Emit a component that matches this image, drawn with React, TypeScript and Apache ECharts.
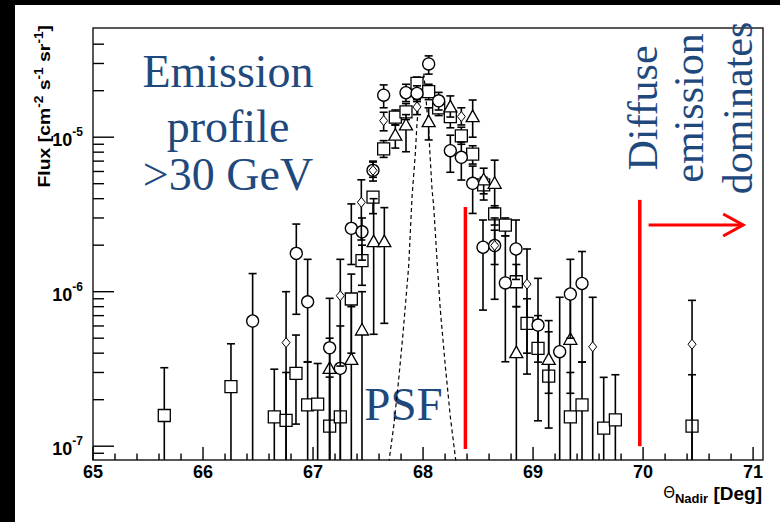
import React, { useEffect, useRef } from "react";
import * as echarts from "echarts";

// ---- axis ranges ----
const X_MIN = 65;
const X_MAX = 71.09;
const Y_MIN = 8.14e-8;
const Y_MAX = 5.09e-5;
const LOW = 1e-9; // error bar that runs off the bottom of the frame

// ---- tick values ----
const xMajorTicks = [65, 66, 67, 68, 69, 70, 71];
const xMinorTicks: number[] = [];
for (let i = 1; i < 31; i++) {
  if (i % 5 !== 0) xMinorTicks.push(+(65 + i * 0.2).toFixed(2));
}
const yMajorTicks = [1e-7, 1e-6, 1e-5];
const yMinorTicks = [
  9e-8, 2e-7, 3e-7, 4e-7, 5e-7, 6e-7, 7e-7, 8e-7, 9e-7,
  2e-6, 3e-6, 4e-6, 5e-6, 6e-6, 7e-6, 8e-6, 9e-6,
  2e-5, 3e-5, 4e-5,
];

// ---- data: [theta, flux, lower, upper] ----
const circles = [
  [66.451, 6.46e-7, LOW, 1.31e-6],
  [66.848, 1.77e-6, 7.14e-7, 2.74e-6],
  [66.951, 8.6e-7, 3.52e-7, 1.62e-6],
  [67.151, 4.33e-7, LOW, 9.06e-7],
  [67.248, 3.19e-7, LOW, 6.0e-7],
  [67.348, 2.57e-6, 1.5e-6, 3.7e-6],
  [67.445, 2.44e-6, 1.6e-6, 3.0e-6],
  [67.545, 6.1e-6, 5.5e-6, 6.9e-6],
  [67.642, 1.87e-5, 1.55e-5, 2.18e-5],
  [67.845, 1.94e-5, 1.7e-5, 2.2e-5],
  [67.945, 1.92e-5, 1.7e-5, 2.15e-5],
  [68.051, 2.98e-5, 2.56e-5, 3.36e-5],
  [68.142, 1.72e-5, 1.5e-5, 1.95e-5],
  [68.248, 8.18e-6, 5.93e-6, 1.03e-5],
  [68.348, 7.41e-6, 5.28e-6, 9.3e-6],
  [68.451, 5.03e-6, 3.21e-6, 6.5e-6],
  [68.545, 1.94e-6, 7.6e-7, 2.91e-6],
  [68.651, 1.99e-6, 8.93e-7, 3.0e-6],
  [68.748, 1.14e-6, 3.52e-7, 2.3e-6],
  [68.845, 1.89e-6, 1.2e-6, 2.91e-6],
  [69.045, 6.08e-7, 3.5e-7, 1.22e-6],
  [69.242, 4.09e-7, LOW, 9.2e-7],
  [69.339, 9.66e-7, 5.0e-7, 1.62e-6],
  [69.445, 1.13e-6, 3.5e-7, 1.82e-6],
];

const squares = [
  [65.648, 1.58e-7, LOW, 3.22e-7],
  [66.254, 2.43e-7, LOW, 4.6e-7],
  [66.648, 1.55e-7, LOW, 3.15e-7],
  [66.755, 1.47e-7, LOW, 3.0e-7],
  [66.845, 2.96e-7, 1.39e-7, 5.24e-7],
  [66.951, 1.85e-7, LOW, 3.5e-7],
  [67.042, 1.87e-7, LOW, 3.43e-7],
  [67.151, 1.35e-7, LOW, 2.8e-7],
  [67.248, 1.55e-7, LOW, 3.0e-7],
  [67.348, 8.97e-7, 4.0e-7, 1.3e-6],
  [67.445, 1.59e-6, 1.1e-6, 2.0e-6],
  [67.545, 4.09e-6, 3.2e-6, 4.4e-6],
  [67.642, 8.4e-6, 7.4e-6, 9.5e-6],
  [67.748, 1.35e-5, 1.2e-5, 1.5e-5],
  [67.845, 1.46e-5, 1.3e-5, 1.65e-5],
  [67.945, 2.23e-5, 2.0e-5, 2.45e-5],
  [68.051, 1.97e-5, 1.75e-5, 2.2e-5],
  [68.142, 1.55e-5, 1.38e-5, 1.72e-5],
  [68.248, 1.36e-5, 1.15e-5, 1.55e-5],
  [68.348, 1.02e-5, 9.0e-6, 1.16e-5],
  [68.451, 7.78e-6, 6.7e-6, 8.8e-6],
  [68.551, 4.91e-6, 3.92e-6, 5.5e-6],
  [68.651, 3.19e-6, 2.7e-6, 3.6e-6],
  [68.748, 2.7e-6, 2.3e-6, 3.0e-6],
  [68.848, 1.16e-6, 8.0e-7, 1.5e-6],
  [68.945, 6.24e-7, 4.0e-7, 9.0e-7],
  [69.045, 4.3e-7, 1.46e-7, 7.0e-7],
  [69.142, 2.84e-7, 1.31e-7, 5.5e-7],
  [69.339, 1.55e-7, LOW, 3.0e-7],
  [69.445, 1.85e-7, LOW, 3.5e-7],
  [69.642, 1.31e-7, LOW, 2.79e-7],
  [69.748, 1.48e-7, LOW, 2.9e-7],
  [70.445, 1.35e-7, LOW, 2.9e-7],
];

const triangles = [
  [67.151, 3.19e-7, LOW, 5.0e-7],
  [67.348, 3.65e-7, LOW, 8.0e-7],
  [67.445, 5.65e-7, LOW, 1.0e-6],
  [67.551, 2.11e-6, 5.3e-7, 4.0e-6],
  [67.648, 2.11e-6, 6.24e-7, 3.5e-6],
  [67.748, 1.03e-5, 8.5e-6, 1.2e-5],
  [67.845, 1.2e-5, 8.05e-6, 1.4e-5],
  [68.051, 1.26e-5, 9.6e-6, 1.55e-5],
  [68.248, 1.57e-5, 1.35e-5, 1.85e-5],
  [68.451, 1.36e-5, 1.0e-5, 1.74e-5],
  [68.551, 5.3e-6, 4.3e-6, 6.3e-6],
  [68.651, 5.03e-6, 3.5e-6, 7.1e-6],
  [68.848, 4.03e-7, LOW, 8.0e-7],
  [69.142, 3.65e-7, 2.2e-7, 6.5e-7],
  [69.339, 4.92e-7, 2.2e-7, 1.0e-6],
];

const diamonds = [
  [66.755, 4.68e-7, LOW, 1.0e-6],
  [67.248, 9.42e-7, 3.3e-7, 1.62e-6],
  [67.439, 3.79e-6, 2.16e-6, 5.3e-6],
  [67.545, 6.1e-6, 5.2e-6, 7.0e-6],
  [67.642, 1.28e-5, 1.1e-5, 1.45e-5],
  [67.945, 1.57e-5, 1.4e-5, 1.75e-5],
  [68.348, 1.36e-5, 1.2e-5, 1.55e-5],
  [68.651, 1.99e-6, 1.5e-6, 2.5e-6],
  [68.945, 1.12e-6, 2.93e-7, 1.89e-6],
  [69.542, 4.4e-7, LOW, 9.2e-7],
  [70.445, 4.57e-7, LOW, 8.79e-7],
];

// ---- PSF (dashed) ----
const psfTheta = [
  67.69, 67.696, 67.733, 67.778, 67.818, 67.869, 67.9, 67.93, 67.945, 67.96,
  68.007, 68.051, 68.066, 68.082, 68.096, 68.127, 68.157, 68.203, 68.248, 68.293, 68.3,
];
const psfFlux = [
  7.8e-8, 8.55e-8, 1.34e-7, 2.68e-7, 5.38e-7, 1.45e-6, 4.12e-6, 7.87e-6, 1.23e-5, 1.66e-5,
  2.6e-5, 1.11e-5, 7.12e-6, 4.55e-6, 3.64e-6, 1.6e-6, 7.6e-7, 3.27e-7, 1.55e-7, 8.55e-8, 7.8e-8,
];

// ---- red annotations ----
const redLines = [
  [68.385, 9.6e-8, 3.53e-6],
  [69.97, 1.0e-7, 3.93e-6],
];
const redArrow = [[70.05, 70.91, 2.7e-6]];

const INK = "#000";
const BLUE = "#1F497D";

function markerShape(kind: string, x: number, y: number) {
  const style = { fill: "#fff", stroke: INK, lineWidth: 1.3 };
  if (kind === "circle") return { type: "circle", shape: { cx: x, cy: y, r: 6 }, style };
  if (kind === "square") return { type: "rect", shape: { x: x - 6, y: y - 6, width: 12, height: 12 }, style };
  if (kind === "triangle")
    return { type: "polygon", shape: { points: [[x, y - 6.5], [x + 6.5, y + 5], [x - 6.5, y + 5]] }, style };
  return { type: "polygon", shape: { points: [[x, y - 5], [x + 4, y], [x, y + 5], [x - 4, y]] }, style: { ...style, lineWidth: 1 } };
}

function errSeries(name: string, data: number[][], kind: string) {
  return {
    name,
    type: "custom",
    coordinateSystem: "cartesian2d",
    clip: true,
    silent: true,
    encode: { x: 0, y: 1 },
    data,
    renderItem: (_p: any, api: any) => {
      const x = api.value(0);
      const c = api.coord([x, api.value(1)]);
      const pl = api.coord([x, api.value(2)]);
      const ph = api.coord([x, api.value(3)]);
      const ls = { stroke: INK, lineWidth: 1.6 };
      return {
        type: "group",
        children: [
          { type: "line", shape: { x1: c[0], y1: pl[1], x2: c[0], y2: ph[1] }, style: ls },
          { type: "line", shape: { x1: c[0] - 4, y1: ph[1], x2: c[0] + 4, y2: ph[1] }, style: ls },
          { type: "line", shape: { x1: c[0] - 4, y1: pl[1], x2: c[0] + 4, y2: pl[1] }, style: ls },
          markerShape(kind, c[0], c[1]),
        ],
      };
    },
  };
}

export default function App() {
  const ref = useRef<HTMLDivElement>(null);
  useEffect(() => {
    if (!ref.current) return;
    const chart = echarts.init(ref.current, null, { renderer: "svg" });

    const isInt = (v: number) => Math.abs(v - Math.round(v)) < 1e-6;

    const tickData = [
      ...xMajorTicks.map((v) => [v, Y_MIN, 1, 0]),
      ...xMinorTicks.map((v) => [v, Y_MIN, 0, 0]),
      ...yMajorTicks.map((v) => [X_MIN, v, 1, 1]),
      ...yMinorTicks.map((v) => [X_MIN, v, 0, 1]),
    ];

    const option: any = {
      animation: false,
      backgroundColor: "#fff",
      grid: { left: 93, top: 28, right: 17, bottom: 62, show: true, borderColor: "#222", borderWidth: 1.5 },
      xAxis: {
        type: "value",
        min: X_MIN,
        max: X_MAX,
        interval: 1,
        axisLine: { show: false },
        axisTick: { show: false },
        splitLine: { show: false },
        axisLabel: {
          formatter: (v: number) => (isInt(v) ? String(Math.round(v)) : ""),
          color: INK,
          fontFamily: "Liberation Sans",
          fontWeight: "bold",
          fontSize: 18,
          margin: 3,
        },
      },
      yAxis: {
        type: "log",
        logBase: 10,
        min: Y_MIN,
        max: Y_MAX,
        axisLine: { show: false },
        axisTick: { show: false },
        minorTick: { show: false },
        splitLine: { show: false },
        axisLabel: {
          margin: 10,
          formatter: (v: number) => {
            const e = Math.log10(v);
            if (!isInt(e)) return "";
            return "{b|10}{s|" + Math.round(e) + "}";
          },
          rich: {
            b: { fontFamily: "Liberation Sans", fontWeight: "bold", fontSize: 18, lineHeight: 22, color: INK, padding: [6, 0, 0, 0] },
            s: { fontFamily: "Liberation Sans", fontWeight: "bold", fontSize: 12, lineHeight: 9, color: INK, verticalAlign: "top" },
          },
        },
      },
      series: [
        {
          name: "PSF",
          type: "line",
          data: psfTheta.map((t, i) => [t, psfFlux[i]]),
          showSymbol: false,
          symbol: "none",
          silent: true,
          lineStyle: { color: INK, width: 1.2, type: [4, 3] },
          z: 1,
        },
        errSeries("squares", squares, "square"),
        errSeries("triangles", triangles, "triangle"),
        errSeries("circles", circles, "circle"),
        errSeries("diamonds", diamonds, "diamond"),
        {
          name: "limits",
          type: "custom",
          coordinateSystem: "cartesian2d",
          silent: true,
          encode: { x: 0, y: 1 },
          data: redLines,
          renderItem: (_p: any, api: any) => {
            const a = api.coord([api.value(0), api.value(1)]);
            const b = api.coord([api.value(0), api.value(2)]);
            return { type: "line", shape: { x1: a[0], y1: a[1], x2: b[0], y2: b[1] }, style: { stroke: "#FF0000", lineWidth: 3.5 } };
          },
        },
        {
          name: "arrow",
          type: "custom",
          coordinateSystem: "cartesian2d",
          silent: true,
          encode: { x: 0, y: 2 },
          data: redArrow,
          renderItem: (_p: any, api: any) => {
            const a = api.coord([api.value(0), api.value(2)]);
            const b = api.coord([api.value(1), api.value(2)]);
            const st = { stroke: "#FF0000", lineWidth: 3, fill: "none" };
            return {
              type: "group",
              children: [
                { type: "line", shape: { x1: a[0], y1: a[1], x2: b[0], y2: b[1] }, style: st },
                { type: "polyline", shape: { points: [[b[0] - 20, b[1] - 11], [b[0], b[1]], [b[0] - 20, b[1] + 11]] }, style: st },
              ],
            };
          },
        },
        {
          name: "ticks",
          type: "custom",
          coordinateSystem: "cartesian2d",
          silent: true,
          encode: { x: 0, y: 1 },
          data: tickData,
          renderItem: (_p: any, api: any) => {
            const p = api.coord([api.value(0), api.value(1)]);
            const major = api.value(2) === 1;
            const isY = api.value(3) === 1;
            const st = { stroke: INK, lineWidth: 1.4 };
            if (isY) {
              const len = major ? 21 : 11;
              return { type: "line", shape: { x1: p[0], y1: p[1], x2: p[0] + len, y2: p[1] }, style: st };
            }
            const len = major ? 13 : 6.5;
            return { type: "line", shape: { x1: p[0], y1: p[1], x2: p[0], y2: p[1] - len }, style: st };
          },
          z: 5,
        },
      ],
      graphic: [
        { type: "rect", left: 0, top: 0, shape: { width: 780, height: 5 }, style: { fill: "#000" }, silent: true },
        { type: "rect", left: 0, top: 0, shape: { width: 15, height: 522 }, style: { fill: "#000" }, silent: true },
        {
          type: "text",
          x: 44,
          y: 25,
          rotation: Math.PI / 2,
          scaleX: 1.14,
          style: {
            text: "{b|Flux [cm}{s|-2}{b| s}{s|-1}{b| sr}{s|-1}{b|]}",
            textAlign: "right",
            textVerticalAlign: "middle",
            rich: {
              b: { fontFamily: "Liberation Sans", fontWeight: "bold", fontSize: 17, lineHeight: 22, fill: INK },
              s: { fontFamily: "Liberation Sans", fontWeight: "bold", fontSize: 12, lineHeight: 9, fill: INK, verticalAlign: "top" },
            },
          },
        },
        {
          type: "text",
          x: 762,
          y: 493,
          style: {
            text: "{t|Θ}{n|Nadir}{d| [Deg]}",
            textAlign: "right",
            textVerticalAlign: "middle",
            rich: {
              t: { fontFamily: "DejaVu Sans", fontSize: 15, lineHeight: 24, fill: INK },
              n: { fontFamily: "Liberation Sans", fontWeight: "bold", fontSize: 13, lineHeight: 10, fill: INK, verticalAlign: "bottom" },
              d: { fontFamily: "Liberation Sans", fontWeight: "bold", fontSize: 19, lineHeight: 24, fill: INK },
            },
          },
        },
        ...[
          ["Emission", 71],
          ["profile", 126],
          [">30 GeV", 174.5],
        ].map(([t, y]) => ({
          type: "text",
          x: 228,
          y: y as number,
          silent: true,
          style: {
            text: t as string,
            fontFamily: "Liberation Serif",
            fontSize: 46,
            fill: BLUE,
            textAlign: "center",
            textVerticalAlign: "middle",
          },
        })),
        {
          type: "text",
          x: 403.5,
          y: 404,
          silent: true,
          style: { text: "PSF", fontFamily: "Liberation Serif", fontSize: 47, fill: BLUE, textAlign: "center", textVerticalAlign: "middle" },
        },
        ...[
          ["Diffuse", 642.5],
          ["emission", 689],
          ["dominates", 737.5],
        ].map(([t, x]) => ({
          type: "text",
          x: x as number,
          y: 108,
          rotation: Math.PI / 2,
          silent: true,
          style: {
            text: t as string,
            fontFamily: "Liberation Serif",
            fontSize: 42,
            fill: BLUE,
            textAlign: "center",
            textVerticalAlign: "middle",
          },
        })),
      ],
    };

    chart.setOption(option);
    return () => chart.dispose();
  }, []);

  return <div ref={ref} style={{ position: "absolute", left: 0, top: 0, width: 780, height: 522 }} />;
}
